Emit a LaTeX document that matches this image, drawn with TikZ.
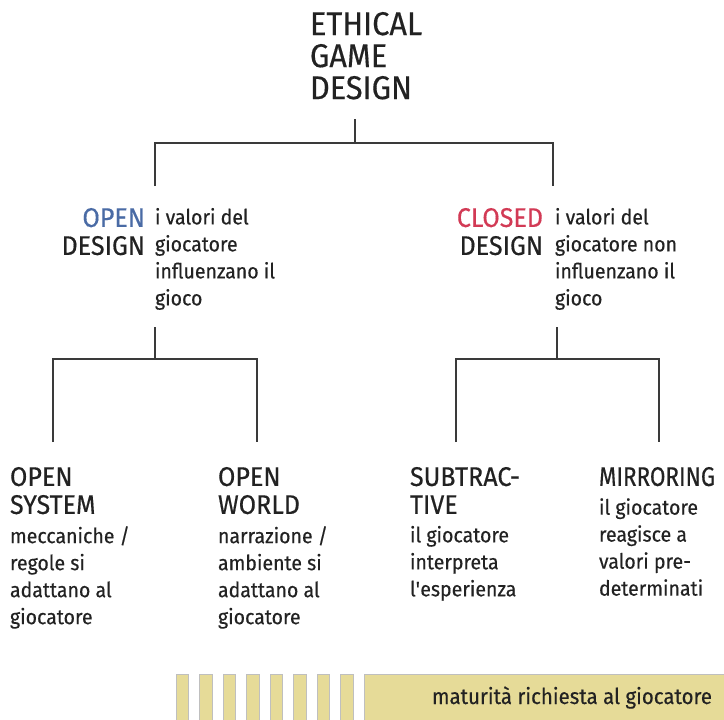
\documentclass[tikz,border=0pt]{standalone}
\usepackage{fontspec}
\setmainfont{Fira Sans}[FakeStretch=0.93, FakeBold=0.4]
\usetikzlibrary{positioning}
\definecolor{openblue}{HTML}{4A6BA5}
\definecolor{closedred}{HTML}{D23A55}
\definecolor{barfill}{HTML}{E6DB98}
\definecolor{ink}{HTML}{222222}
\definecolor{linegray}{HTML}{3A3A3A}

\begin{document}
\begin{tikzpicture}[x=1pt,y=-1pt,
    every node/.style={inner sep=0pt, outer sep=0pt, text=ink},
    head/.style={font=\fontsize{33}{32}\selectfont, align=left},
    mid/.style={font=\fontsize{27}{28}\selectfont},
    desc/.style={font=\fontsize{21}{27}\selectfont, align=left},
    branch/.style={draw=linegray, line width=2.4pt},
    stripe/.style={fill=barfill, draw=black!25, line width=0.6pt}]
    \useasboundingbox (0,0) rectangle (724,720);

    % title
    \node[head, anchor=north west] (root) at (310,12) {ETHICAL\\GAME\\DESIGN};

    % second level
    \node[mid, align=right, anchor=north east] (opendes) at (145,208)
        {\textcolor{openblue}{OPEN}\\DESIGN};
    \node[desc, right=10pt of opendes.north east, anchor=north west] (opendesc)
        {i valori del\\giocatore\\influenzano il\\gioco};
    \node[mid, align=right, anchor=north east] (closeddes) at (543,208)
        {\textcolor{closedred}{CLOSED}\\DESIGN};
    \node[desc, right=12pt of closeddes.north east, anchor=north west] (closeddesc)
        {i valori del\\giocatore non\\influenzano il\\gioco};

    % leaves
    \node[mid, align=left, anchor=north west] (opensys) at (10,467) {OPEN\\SYSTEM};
    \node[desc, below=12pt of opensys.south west, anchor=north west] (opensysdesc)
        {meccaniche /\\regole si\\adattano al\\giocatore};
    \node[mid, align=left, anchor=north west] (openworld) at (218,467) {OPEN\\WORLD};
    \node[desc, below=12pt of openworld.south west, anchor=north west] (openworlddesc)
        {narrazione /\\ambiente si\\adattano al\\giocatore};
    \node[mid, align=left, anchor=north west] (subtr) at (410,467) {SUBTRAC-\\TIVE};
    \node[desc, below=12pt of subtr.south west, anchor=north west] (subtrdesc)
        {il giocatore\\interpreta\\l\textquotesingle esperienza};
    \node[mid, align=left, anchor=north west] (mirror) at (599,467)
        {\addfontfeatures{FakeStretch=0.83}MIRRORING};
    \node[desc, below=12pt of mirror.south west, anchor=north west] (mirrordesc)
        {il giocatore\\reagisce a\\valori pre-\\determinati};

    % connectors
    \coordinate (rootstem) at (355,119);
    \coordinate (roothub) at (355,143);
    \coordinate (opentop) at (155,186);
    \coordinate (closedtop) at (553,186);
    \draw[branch] (rootstem) -- (roothub);
    \draw[branch] (opentop) |- (roothub) -| (closedtop);

    \coordinate (openstem) at (155,327);
    \coordinate (openhub) at (155,359);
    \coordinate (systop) at (53,442);
    \coordinate (worldtop) at (257,442);
    \draw[branch] (openstem) -- (openhub);
    \draw[branch] (systop) |- (openhub) -| (worldtop);

    \coordinate (closedstem) at (557,327);
    \coordinate (closedhub) at (557,359);
    \coordinate (subtrtop) at (456,442);
    \coordinate (mirrortop) at (659,442);
    \draw[branch] (closedstem) -- (closedhub);
    \draw[branch] (subtrtop) |- (closedhub) -| (mirrortop);

    % maturity bar
    \foreach \i in {0,...,7}{
        \draw[stripe] ({176+23.5*\i},674) rectangle ++(12.5,50);
    }
    \draw[stripe] (364,674) rectangle (728,724);
    \node[font=\fontsize{22}{24}\selectfont, anchor=base east] (bartext) at (712,704)
        {maturità richiesta al giocatore};
\end{tikzpicture}
\end{document}
